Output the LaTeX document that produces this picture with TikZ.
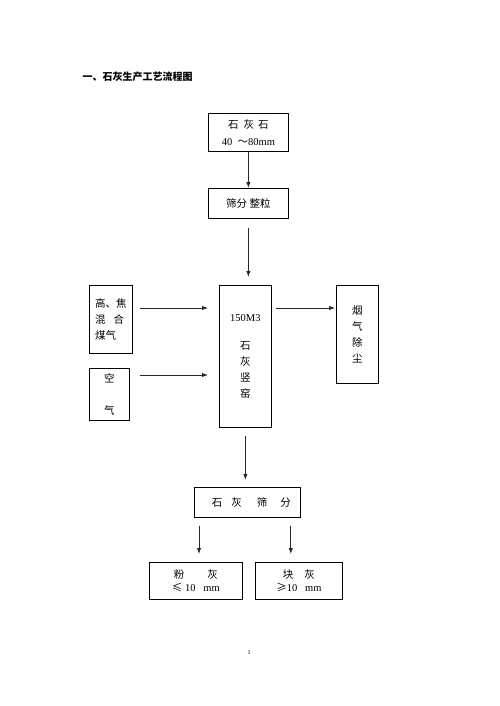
\documentclass[tikz,border=0pt]{standalone}
\usepackage{fontspec}
\setmainfont{Liberation Serif}
\newfontfamily\cjk{Noto Sans CJK SC}
\usepackage{tikz}
\usetikzlibrary{calc,arrows.meta}

\begin{document}
\begin{tikzpicture}[x=1pt,y=-1pt,>={Latex[length=6pt,width=4.5pt]},
		box/.style={draw,line width=0.8pt,inner sep=0pt,anchor=north west,align=center,font=\fontsize{10.5}{16}\selectfont},
		flow/.style={->,line width=1pt,black!85}]
			\fill[white] (0,0) rectangle (500,706);
			\useasboundingbox (0,0) rectangle (500,706);
			\node[anchor=west,font=\fontsize{10}{12}\selectfont] (title) at (79,77) {\cjk\bfseries 一、石灰生产工艺流程图};
			\node[box,minimum width=80pt,minimum height=38pt,font=\fontsize{10.5}{17}\selectfont] (stone) at (208,113) {{\cjk 石\hspace{5pt}灰\hspace{4pt}石}\\40\ \ {\cjk ～}80mm};
			\node[box,minimum width=80pt,minimum height=30pt] (sieve) at (208,188) {\cjk 筛分\ 整粒};
			\node[box,minimum width=52pt,minimum height=142pt] (kiln) at (219,285) {150M3\\[12pt]\cjk 石\\\cjk 灰\\\cjk 竖\\\cjk 窑};
			\node[box,minimum width=43pt,minimum height=68pt,align=left] (gas) at (89,285) {\cjk 高、焦\\\cjk 混\hspace{8pt}合\\\cjk 煤气};
			\node[box,minimum width=40pt,minimum height=52pt] (air) at (89,368) {\cjk 空\\[16pt]\cjk 气};
			\node[box,minimum width=42pt,minimum height=98pt] (dust) at (336,285) {\cjk 烟\\\cjk 气\\\cjk 除\\\cjk 尘};
			\node[box,minimum width=106pt,minimum height=30pt] (screen) at (194,487) {\hspace{8pt}\cjk 石\hspace{9pt}灰\hspace{15pt}筛\hspace{13pt}分};
			\node[box,minimum width=93pt,minimum height=37pt,font=\fontsize{10.5}{13}\selectfont] (powder) at (149,562) {{\cjk 粉\hspace{23pt}灰}\\{\cjk ≤}\ 10\ \ \ mm};
			\node[box,minimum width=87pt,minimum height=37pt,font=\fontsize{10.5}{13}\selectfont] (lump) at (255,562) {{\cjk 块\hspace{11pt}灰}\\{\cjk ≥}10\ \ \ mm};
			\node[font=\fontsize{6}{7}\selectfont] (pagenum) at (249,653) {1};
			% main line
			\draw[flow] (stone) -- (sieve);
			\draw[flow,shorten <=9pt,shorten >=8pt] (sieve.south) -- (sieve.south |- kiln.north);
			\draw[flow] ($(gas.north east)+(7,23)$) -- ($(kiln.north west)+(-11,23)$);
			\draw[flow] ($(air.north east)+(10,7)$) -- ($(kiln.north west)+(-11,90)$);
			\draw[flow] ($(kiln.north east)+(4,23)$) -- ($(dust.north west)+(-1,23)$);
			\draw[flow,shorten <=8pt,shorten >=7pt] (kiln.south) -- (kiln.south |- screen.north);
			% screening
			\draw[flow] ($(screen.south west)+(5,8)$) -- ($(screen.south west |- powder.north)+(5,-8)$);
			\draw[flow] ($(screen.south east)+(-10,8)$) -- ($(screen.south east |- lump.north)+(-10,-8)$);
		\end{tikzpicture}
\end{document}
